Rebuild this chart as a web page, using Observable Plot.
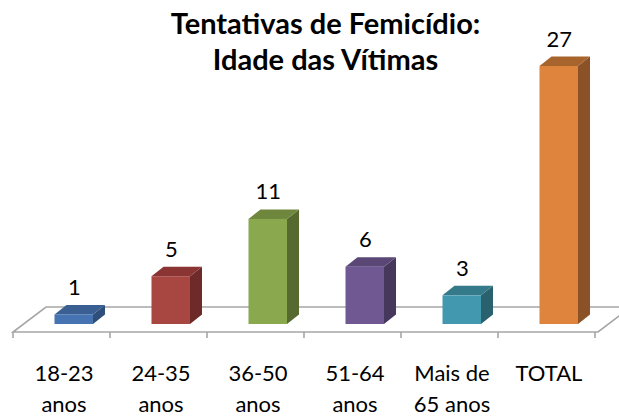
<!DOCTYPE html>
<html>
<head>
<meta charset="utf-8">
<script src="https://cdn.jsdelivr.net/npm/d3@7"></script>
<script src="https://cdn.jsdelivr.net/npm/@observablehq/plot@0.6"></script>
<style>
  html, body { margin: 0; padding: 0; background: #fff; }
  #chart svg { display: block; font-family: Lato, "Open Sans", sans-serif; }
</style>
</head>
<body>
<div id="chart"></div>
<script>
const titleLines = ["Tentativas de Femicídio:", "Idade das Vítimas"];
const categories = ["18-23 anos", "24-35 anos", "36-50 anos", "51-64 anos", "Mais de 65 anos", "TOTAL"];
const labelLine1 = ["18-23", "24-35", "36-50", "51-64", "Mais de", "TOTAL"];
const labelLine2 = ["anos", "anos", "anos", "anos", "65 anos", ""];
const values = [1, 5, 11, 6, 3, 27];
const frontColors = ["#4674B2", "#A84642", "#8AA84D", "#705993", "#4299AF", "#DE843C"];
const topColors   = ["#3A5F92", "#8A3533", "#6E873C", "#5A4775", "#347A8B", "#A8642D"];
const sideColors  = ["#2F4E79", "#6E2A29", "#566A30", "#46385C", "#2A616F", "#8B5127"];

const data = categories.map((c, i) => ({
  cat: c, value: values[i], l1: labelLine1[i], l2: labelLine2[i],
  front: frontColors[i], top: topColors[i], side: sideColors[i]
}));

const W = 619, H = 416;
const mL = 13, mR = 21, mB = 84;
const insetL = 39.5, insetR = 19;      // front face position inside the band
const depthX = 12, depthY = 9.5;       // bar depth (3D)
const floorX = 33, floorY = 25;        // floor depth (3D)
const floorColor = "#A6A6A6";

function bandwidthOf(x) {
  return typeof x.bandwidth === "function" ? x.bandwidth() : x(categories[1]) - x(categories[0]);
}

// floor (3D plane) + boundary ticks
function floorMark(index, scales, values, dims) {
  const x = scales.x;
  const bw = bandwidthOf(x);
  const x0 = dims.marginLeft, x1 = dims.width - dims.marginRight;
  const y0 = dims.height - dims.marginBottom;
  const g = d3.create("svg:g").attr("fill", "none").attr("stroke", floorColor).attr("stroke-width", 1.6);
  g.append("path").attr("d",
    `M${x0},${y0}L${x1},${y0}L${x1 + floorX},${y0 - floorY}L${x0 + floorX},${y0 - floorY}Z`);
  const n = categories.length;
  for (let i = 0; i <= n; i++) {
    const xi = x0 + i * bw;
    g.append("line").attr("x1", xi).attr("x2", xi).attr("y1", y0).attr("y2", y0 + 6);
  }
  return g.node();
}

// top and side faces of each bar
function facesMark(index, scales, values, dims) {
  const x = scales.x, y = scales.y;
  const bw = bandwidthOf(x);
  const g = d3.create("svg:g");
  data.forEach(d => {
    const xa = x(d.cat) + insetL, xb = x(d.cat) + bw - insetR;
    const yt = y(d.value), yb = y(0);
    g.append("path").attr("fill", d.side).attr("d",
      `M${xb},${yt}L${xb + depthX},${yt - depthY}L${xb + depthX},${yb - depthY}L${xb},${yb}Z`);
    g.append("path").attr("fill", d.top).attr("d",
      `M${xa},${yt}L${xb},${yt}L${xb + depthX},${yt - depthY}L${xa + depthX},${yt - depthY}Z`);
  });
  return g.node();
}

const fsLabel = 22, fsTitle = 29;
const chart = Plot.plot({
  width: W, height: H,
  marginLeft: mL, marginRight: mR, marginBottom: mB, marginTop: 0,
  x: { domain: categories, padding: 0, axis: null },
  y: { domain: [0, 27], range: [324, 66], axis: null },
  color: { type: "identity" },
  style: { fontFamily: "Lato, 'Open Sans', sans-serif", background: "#fff" },
  marks: [
    floorMark,
    facesMark,
    Plot.barY(data, { x: "cat", y: "value", fill: "front", insetLeft: insetL, insetRight: insetR }),
    Plot.text(data, { x: "cat", y: "value", text: d => String(d.value), fontSize: fsLabel,
      fill: "#000", dx: (insetL - insetR) / 2, dy: -27, lineAnchor: "middle" }),
    Plot.text(data, { x: "cat", text: "l1", frameAnchor: "bottom", fontSize: fsLabel, fill: "#000",
      lineAnchor: "middle", dy: 48 - 0.32 * fsLabel }),
    Plot.text(data, { x: "cat", text: "l2", frameAnchor: "bottom", fontSize: fsLabel, fill: "#000",
      lineAnchor: "middle", dy: 79 - 0.32 * fsLabel }),
    Plot.text([titleLines[0]], { frameAnchor: "top", dx: 19.5, dy: 33 - 0.32 * fsTitle, fontSize: fsTitle,
      fontWeight: "bold", fill: "#000", lineAnchor: "middle" }),
    Plot.text([titleLines[1]], { frameAnchor: "top", dx: 19.5, dy: 69 - 0.32 * fsTitle, fontSize: fsTitle,
      fontWeight: "bold", fill: "#000", lineAnchor: "middle" })
  ]
});
document.getElementById("chart").appendChild(chart);
</script>
</body>
</html>
